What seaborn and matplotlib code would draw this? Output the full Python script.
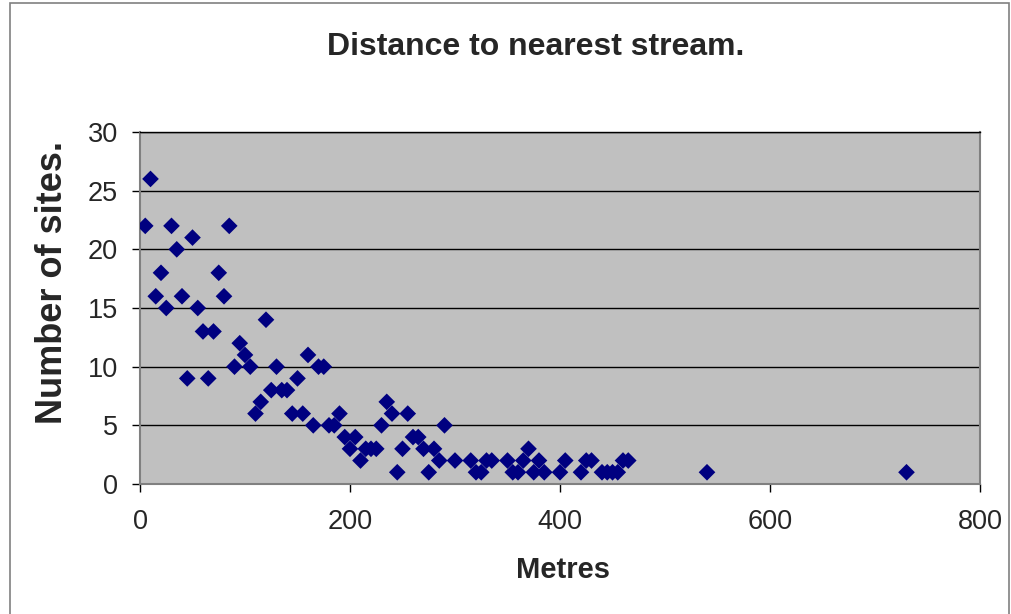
import matplotlib
matplotlib.use("Agg")
import matplotlib.pyplot as plt
import seaborn as sns
import pandas as pd
from matplotlib.patches import Rectangle

metres = [5, 10, 15, 20, 25, 30, 35, 40, 45, 50, 55, 60, 65, 70, 75, 80, 85, 90, 95, 100,
          105, 110, 115, 120, 125, 130, 135, 140, 145, 150, 155, 160, 165, 170, 175, 180,
          185, 190, 195, 200, 205, 210, 215, 220, 225, 230, 235, 240, 245, 250, 255, 260,
          265, 270, 275, 280, 285, 290, 300, 315, 320, 325, 330, 335, 350, 355, 360, 365,
          370, 375, 380, 385, 400, 405, 420, 425, 430, 440, 445, 450, 455, 460, 465, 540, 730]
sites = [22, 26, 16, 18, 15, 22, 20, 16, 9, 21, 15, 13, 9, 13, 18, 16, 22, 10, 12, 11,
         10, 6, 7, 14, 8, 10, 8, 8, 6, 9, 6, 11, 5, 10, 10, 5,
         5, 6, 4, 3, 4, 2, 3, 3, 3, 5, 7, 6, 1, 3, 6, 4,
         4, 3, 1, 3, 2, 5, 2, 2, 1, 1, 2, 2, 2, 1, 1, 2,
         3, 1, 2, 1, 1, 2, 1, 2, 2, 1, 1, 1, 1, 2, 2, 1, 1]

x_ticks = [0, 200, 400, 600, 800]
y_ticks = [0, 5, 10, 15, 20, 25, 30]

title = "Distance to nearest stream."
x_label = "Metres"
y_label = "Number of sites."

df = pd.DataFrame({"Metres": metres, "Sites": sites})

sns.set_style("white")
plt.rcParams["font.family"] = ["Liberation Sans", "DejaVu Sans"]

fig = plt.figure(figsize=(10.12, 6.14), dpi=100)
ax = fig.add_axes([140 / 1012, 1 - 484 / 614, 840 / 1012, 352 / 614])
ax.set_facecolor("#C0C0C0")

sns.scatterplot(data=df, x="Metres", y="Sites", ax=ax, marker="D", s=72,
                color="#000080", edgecolor="none", linewidth=0, zorder=3)

ax.set_xlim(0, 800)
ax.set_ylim(0, 30)
ax.set_xticks(x_ticks)
ax.set_yticks(y_ticks)
ax.yaxis.grid(True, color="black", linewidth=1.0)
ax.xaxis.grid(False)
ax.set_axisbelow(True)

for side in ["left", "right", "bottom", "top"]:
    ax.spines[side].set_visible(True)
    ax.spines[side].set_color("#808080")
    ax.spines[side].set_linewidth(1.5)
ax.spines["top"].set_color("black")
ax.spines["top"].set_linewidth(1.0)

ax.tick_params(axis="both", which="major", direction="out", length=6, width=1,
               color="black", labelsize=19.5, left=True, bottom=True)
ax.tick_params(axis="y", pad=10)
ax.tick_params(axis="x", pad=12)

ax.set_xlabel(x_label, fontsize=21, fontweight="bold")
ax.xaxis.label.set_va("center")
ax.xaxis.set_label_coords((563 - 140) / 840, (484 - 570) / 352)
ax.set_ylabel(y_label, fontsize=26, fontweight="bold")
ax.yaxis.label.set_va("center")
ax.yaxis.set_label_coords((53 - 140) / 840, (484 - 283) / 352)

fig.text(536 / 1012, 1 - 47 / 614, title, ha="center", va="center",
         fontsize=23, fontweight="bold")

fig.patches.append(Rectangle((10 / 1012, -0.02), 999 / 1012, 1.02 - 3 / 614,
                             transform=fig.transFigure, fill=False,
                             edgecolor="#808080", linewidth=1.2))

fig.savefig("out.png", dpi=100, facecolor="white")
